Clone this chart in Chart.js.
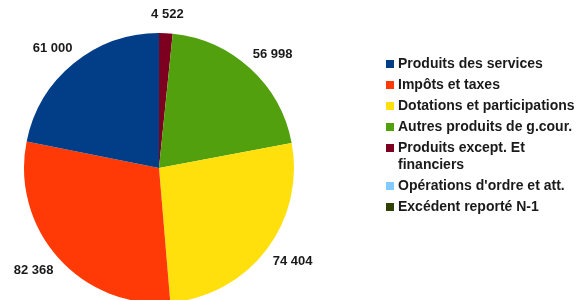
<!DOCTYPE html>
<html>
<head>
<meta charset="utf-8">
<script src="https://cdn.jsdelivr.net/npm/chart.js@4"></script>
<style>
    html, body { margin: 0; padding: 0; background: #fff; overflow: hidden; }
    #wrap { position: relative; width: 579px; height: 300px; }
    #legend { position: absolute; left: 386px; top: 55px; font: bold 14px "Liberation Sans", Arial, sans-serif; color: #1a1a1a; white-space: nowrap; }
    #legend .item { position: relative; padding-left: 12px; line-height: 17px; margin-bottom: 4px; }
    #legend .box { position: absolute; left: 0; top: 5px; width: 8px; height: 8px; }
</style>
</head>
<body>
<div id="wrap">
    <canvas id="graph" width="579" height="300"></canvas>
    <div id="legend"></div>
</div>
<script>
"use strict"

// legend order
let categories = ["Produits des services", "Impôts et taxes", "Dotations et participations",
    "Autres produits de g.cour.", ["Produits except. Et", "financiers"],
    "Opérations d'ordre et att.", "Excédent reporté N-1"];
let values = [61000, 82368, 74404, 56998, 4522, 0, 0];
let colors = ["#023d88", "#ff3a06", "#ffe00c", "#52a00e", "#7e0021", "#83caff", "#314004"];

// LibreOffice draws counter-clockwise, Chart.js clockwise: reverse for drawing
let drawValues = values.slice().reverse();
let drawColors = colors.slice().reverse();
let drawLabels = categories.map(c => Array.isArray(c) ? c.join(" ") : c).reverse();

function fmt (v) {
    return String(v).replace(/\B(?=(\d{3})+(?!\d))/g, " ");
}

let outsideLabels = {
    id : "outsideLabels",
    afterDatasetsDraw (chart) {
        let ctx = chart.ctx;
        let meta = chart.getDatasetMeta(0);
        ctx.save();
        ctx.font = "bold 13px 'Liberation Sans', Arial, sans-serif";
        ctx.fillStyle = "#1a1a1a";
        ctx.textAlign = "center";
        ctx.textBaseline = "middle";
        meta.data.forEach(function (arc, i) {
            let v = drawValues[i];
            if (!v)
                return;
            let mid = (arc.startAngle + arc.endAngle) / 2;
            let a = mid + Math.PI / 2; // angle from top, clockwise
            let d = arc.outerRadius + 13;
            let text = fmt(v);
            let hw = ctx.measureText(text).width / 2, hh = 6;
            let x = arc.x + d * Math.sin(a) + hw * Math.sin(a);
            let y = arc.y - d * Math.cos(a) - hh * Math.cos(a);
            ctx.fillText(text, x, y);
        });
        ctx.restore();
    }
};

new Chart(document.getElementById("graph"), {
    type : "pie",
    data : {
        labels : drawLabels,
        datasets : [
            {
                data : drawValues,
                backgroundColor : drawColors,
                borderWidth : 0,
                radius : 135,
                clip : false
            }
        ]
    },
    options : {
        responsive : false,
        animation : false,
        layout : { padding : { left : 0, right : 261, top : 36, bottom : 0 } },
        plugins : {
            legend : { display : false },
            tooltip : { enabled : false }
        }
    },
    plugins : [outsideLabels]
});

// legend
let _legend = document.getElementById("legend");
categories.forEach(function (c, i) {
    let item = document.createElement("div");
    item.className = "item";
    let box = document.createElement("span");
    box.className = "box";
    box.style.background = colors[i];
    item.appendChild(box);
    let lines = Array.isArray(c) ? c : [c];
    item.appendChild(document.createTextNode(lines[0]));
    for (let k = 1; k < lines.length; k++) {
        item.appendChild(document.createElement("br"));
        item.appendChild(document.createTextNode(lines[k]));
    }
    _legend.appendChild(item);
});
</script>
</body>
</html>
